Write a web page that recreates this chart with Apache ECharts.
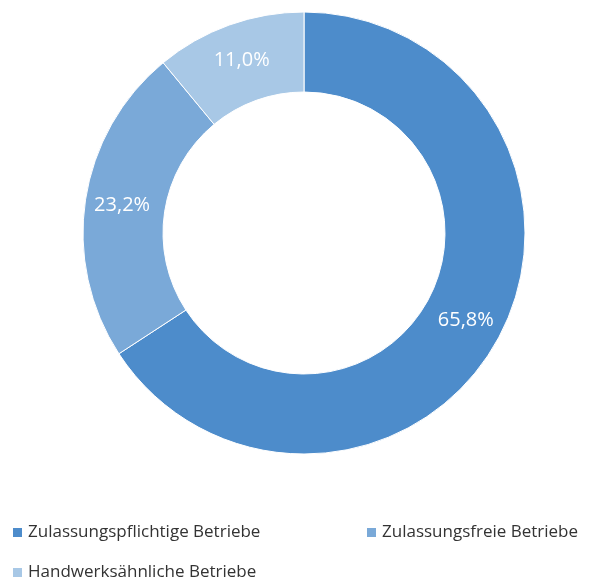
<!DOCTYPE html>
<html><head><meta charset="utf-8">
<script src="https://cdn.jsdelivr.net/npm/echarts@6/dist/echarts.min.js"></script>
<style>html,body{margin:0;padding:0;background:#fff}#c{width:600px;height:583px}</style>
</head><body><div id="c"></div>
<script>
const categories = ["Zulassungspflichtige Betriebe", "Zulassungsfreie Betriebe", "Handwerksähnliche Betriebe"];
const values = [65.8, 23.2, 11.0];
const colors = ["#4d8ccb", "#7aa9d8", "#a8c8e6"];
const chart = echarts.init(document.getElementById('c'));
const legendBase = {
  icon: 'rect', itemWidth: 11, itemHeight: 11, itemGap: 10,
  textStyle: { fontFamily: 'Open Sans', fontSize: 17, color: '#333' }
};
chart.setOption({
  animation: false,
  color: colors,
  legend: [
    Object.assign({ left: 6, top: 519, data: [categories[0]] }, legendBase),
    Object.assign({ left: 360, top: 519, data: [categories[1]] }, legendBase),
    Object.assign({ left: 6, top: 559, data: [categories[2]] }, legendBase)
  ],
  series: [{
    type: 'pie',
    center: [304, 233],
    radius: [141, 221],
    startAngle: 90,
    clockwise: true,
    itemStyle: { borderColor: '#fff', borderWidth: 1 },
    label: {
      position: 'inside', color: '#fff', fontFamily: 'Open Sans', fontSize: 20,
      formatter: p => p.value.toFixed(1).replace('.', ',') + '%'
    },
    labelLine: { show: false },
    data: categories.map((n, i) => ({ name: n, value: values[i] }))
  }]
});
</script></body></html>
